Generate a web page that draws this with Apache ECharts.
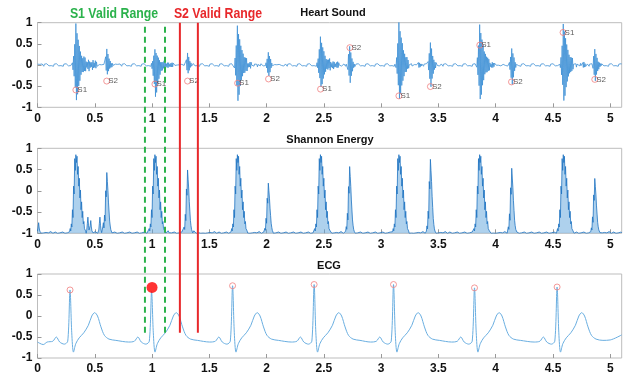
<!DOCTYPE html>
<html>
<head>
<meta charset="utf-8">
<script src="https://cdn.jsdelivr.net/npm/echarts@6/dist/echarts.min.js"></script>
<style>
html,body{margin:0;padding:0;background:#fff}
#main{width:624px;height:379px}
</style>
</head>
<body>
<div id="main"></div>
<script>
// sample step of the rebuilt signals (s) and x range
const DT = 0.005
const X_MAX = 5.1

// heart sound: S1 / S2 events (time, positive peak, negative peak)
const S1_TIME = [0.335, 1.025, 1.747, 2.471, 3.155, 3.861, 4.588]
const S1_POS = [0.95, 0.38, 0.95, 0.68, 0.98, 0.97, 0.95]
const S1_NEG = [-0.85, -0.78, -0.85, -0.55, -0.78, -0.83, -0.83]
const S1_TAIL = [0.12, 0.05, 0.06, 0.08, 0.05, 0.05, 0.06]
const S2_TIME = [0.604, 1.31, 2.017, 2.727, 3.43, 4.138, 4.865]
const S2_POS = [0.35, 0.3, 0.28, 0.45, 0.52, 0.37, 0.36]
const S2_NEG = [-0.2, -0.22, -0.25, -0.45, -0.5, -0.45, -0.35]

// burst shapes (one value per sample)
const S1_SHAPE = [0.05,-0.1,0.2,-0.3,0.5,-0.6,1.0,-1.0,0.8,-0.85,0.65,-0.6,0.5,-0.45,0.35,-0.3,0.25,-0.2,0.15,-0.15,0.12,-0.1,0.08,-0.08]
const S1_PEAK_IDX = 6
const TAIL_SHAPE = [0.4,-0.5,0.8,-0.6,1.0,-0.9,0.5,-0.4,0.3,-0.6,0.9,-1.0,0.6,-0.4,0.3,-0.2,0.5,-0.7,0.8,-0.5,0.3,-0.3,0.6,-0.8,0.7,-0.5,0.3,-0.2]
const S2_SHAPE = [0.1,-0.2,0.5,-0.6,1.0,-1.0,0.7,-0.6,0.4,-0.35,0.2,-0.2,0.1,-0.1,0.05]
const S2_PEAK_IDX = 4
const HS_NOISE = [0.02,-0.01,0.03,-0.02,0.015,-0.025,0.01,-0.015,0.025,-0.02,0.005,-0.03,0.02,-0.01,0.015,-0.02,0.03]

// S1/S2 markers on the heart sound plot
const S1_MARK = [[0.335,-0.59],[1.025,-0.45],[1.747,-0.43],[2.471,-0.57],[3.155,-0.73],[3.861,0.47],[4.588,0.77]]
const S2_MARK = [[0.604,-0.38],[1.31,-0.38],[2.017,-0.33],[2.727,0.41],[3.43,-0.51],[4.138,-0.4],[4.865,-0.34]]

// shannon energy peaks
const SE_S1_PEAK = [0.85, 0.85, 0.85, 0.85, 0.85, 0.85, 0.85]
const SE_S2_PEAK = [0.43, 0.49, 0.18, 0.57, 0.74, 0.53, 0.29]
const SE_S1_SHAPE = [0.02,0.06,0.03,0.12,0.08,0.3,0.2,0.6,0.5,0.95,0.8,1.0,0.9,0.98,0.75,0.85,0.6,0.7,0.45,0.55,0.3,0.4,0.2,0.28,0.12,0.15,0.06,0.08,0.03]
const SE_S1_IDX = 11
const SE_S2_SHAPE = [0.03,0.1,0.06,0.3,0.2,0.7,0.6,1.0,0.85,0.7,0.5,0.35,0.2,0.12,0.06,0.03]
const SE_S2_IDX = 7
const SE_MINOR = [[0.01,0.25],[0.44,0.38],[0.465,0.3],[0.545,0.38],[0.575,0.25],[1.08,0.1],[1.14,0.06],[1.37,0.1],[2.52,0.18],[3.2,0.1],[3.93,0.12],[4.63,0.55],[4.66,0.2],[4.9,0.08]]
const SE_BUMP = [0.2,0.6,1.0,0.5,0.2]
const SE_NOISE = [0.01,0.0,0.02,0.005,0.0,0.03,0.01,0.0,0.015,0.0,0.04,0.01,0.0]

// ECG
const R_TIME = [0.284, 0.996, 1.703, 2.415, 3.108, 3.815, 4.536]
const R_PEAK = [0.62, 0.58, 0.72, 0.75, 0.75, 0.67, 0.69]
const ECG_BEAT = [[-0.2,-0.62],[-0.15,-0.6],[-0.12,-0.5],[-0.09,-0.62],[-0.05,-0.67],[-0.02,-0.6],[0,null],[0.015,-0.4],[0.03,-0.86],[0.05,-0.66],[0.08,-0.52],[0.12,-0.4],[0.16,-0.22],[0.19,0.0],[0.215,0.08],[0.24,0.0],[0.27,-0.26],[0.3,-0.46],[0.34,-0.55],[0.4,-0.58]]
const ECG_LEAD = [[0,-0.62],[0.05,-0.68]]
const ECG_END = [[5.0,-0.57],[5.1,-0.45]]
const R_MARK = [[0.284,0.62],[1.703,0.72],[2.415,0.75],[3.108,0.75],[3.815,0.67],[4.536,0.69]]
const R_SELECTED = [[1.0,0.68]]

// valid ranges
const S1_RANGE = [0.938, 1.113]
const S2_RANGE = [1.243, 1.40]

const n = Math.round(X_MAX / DT) + 1

function place(arr, t, shape, peakIdx, fn) {
  let i0 = Math.round(t / DT) - peakIdx
  shape.forEach((s, k) => {
    let i = i0 + k
    if (i >= 0 && i < arr.length) fn(i, s)
  })
}

// heart sound
let hs = []
for (let i = 0; i < n; i++) hs.push(HS_NOISE[i % HS_NOISE.length])
S1_TIME.forEach((t, j) => {
  place(hs, t, S1_SHAPE, S1_PEAK_IDX, (i, s) => { hs[i] += s > 0 ? s * S1_POS[j] : s * Math.abs(S1_NEG[j]) })
  place(hs, t + 0.06, TAIL_SHAPE, 0, (i, s) => { hs[i] += s * S1_TAIL[j] })
})
S2_TIME.forEach((t, j) => {
  place(hs, t, S2_SHAPE, S2_PEAK_IDX, (i, s) => { hs[i] += s > 0 ? s * S2_POS[j] : s * Math.abs(S2_NEG[j]) })
})
const hsData = hs.map((v, i) => [i * DT, v])

// shannon energy
let se = []
for (let i = 0; i < n; i++) se.push(-1 + SE_NOISE[i % SE_NOISE.length])
S1_TIME.forEach((t, j) => {
  place(se, t, SE_S1_SHAPE, SE_S1_IDX, (i, s) => { se[i] = Math.max(se[i], -1 + s * (SE_S1_PEAK[j] + 1)) })
})
S2_TIME.forEach((t, j) => {
  place(se, t, SE_S2_SHAPE, SE_S2_IDX, (i, s) => { se[i] = Math.max(se[i], -1 + s * (SE_S2_PEAK[j] + 1)) })
})
SE_MINOR.forEach(m => {
  place(se, m[0], SE_BUMP, 2, (i, s) => { se[i] = Math.max(se[i], -1 + s * m[1]) })
})
const seData = se.map((v, i) => [i * DT, v])

// ecg
let ecgData = ECG_LEAD.slice()
R_TIME.forEach((r, j) => {
  ECG_BEAT.forEach(p => ecgData.push([r + p[0], p[1] === null ? R_PEAK[j] : p[1]]))
})
ecgData = ecgData.concat(ECG_END)

const FONT = 'Liberation Sans'
const GRIDS = [
  { left: 37.5, right: 2.3, top: 22.7, height: 84.6 },
  { left: 37.5, right: 2.3, top: 148.3, height: 85 },
  { left: 37.5, right: 2.3, top: 274, height: 84 },
  { left: 37.5, right: 2.3, top: 22.7, height: 310 }
]

function xAxis(idx) {
  return {
    type: 'value', gridIndex: idx, min: 0, max: X_MAX, interval: 0.5,
    show: idx < 3,
    axisLine: { show: false, onZero: false },
    splitLine: { show: false },
    axisTick: { inside: true, length: 4, lineStyle: { color: '#999' } },
    axisLabel: {
      fontFamily: FONT, fontWeight: 'bold', fontSize: 12, color: '#111', margin: 5,
      showMaxLabel: false,
      formatter: v => (Math.abs(v * 2 - Math.round(v * 2)) < 1e-6 ? String(v) : '')
    }
  }
}
function yAxis(idx) {
  if (idx === 3) return { type: 'value', gridIndex: 3, min: 0, max: 1, show: false }
  return {
    type: 'value', gridIndex: idx, min: -1, max: 1, interval: 0.5,
    axisLine: { show: false, onZero: false },
    splitLine: { show: false },
    axisTick: { inside: true, length: 4, lineStyle: { color: '#999' } },
    axisLabel: { fontFamily: FONT, fontWeight: 'bold', fontSize: 12, color: '#111', margin: 5 }
  }
}

const markLabel = txt => ({
  show: true, formatter: txt, position: 'right', distance: -2,
  fontSize: 8, color: '#333', fontFamily: FONT
})

function rangeLine(x, color, dashed) {
  return {
    type: 'line', xAxisIndex: 3, yAxisIndex: 3, data: [[x, 0], [x, 1]],
    symbol: 'none', silent: true, z: 10,
    lineStyle: { color: color, width: 2, type: dashed ? [6, 4] : 'solid' }
  }
}

function label(x, y, text, color, size, sx) {
  return {
    type: 'text', x: x, y: y, scaleX: sx || 1,
    style: { text: text, fill: color, font: 'bold ' + size + 'px ' + FONT, textAlign: 'center', textVerticalAlign: 'middle' }
  }
}

const chart = echarts.init(document.getElementById('main'))
chart.setOption({
  animation: false,
  grid: GRIDS.map((g, i) => Object.assign({ show: i < 3, borderColor: '#bdbdbd', borderWidth: 1 }, g)),
  xAxis: [0, 1, 2, 3].map(xAxis),
  yAxis: [0, 1, 2, 3].map(yAxis),
  graphic: [
    label(114, 14, 'S1 Valid Range', '#2bb24c', 15, 0.82),
    label(218, 14, 'S2 Valid Range', '#e8282b', 15, 0.82),
    label(333, 13, 'Heart Sound', '#111', 11),
    label(330, 140, 'Shannon Energy', '#111', 11),
    label(329, 266, 'ECG', '#111', 11)
  ],
  series: [
    {
      type: 'line', xAxisIndex: 0, yAxisIndex: 0, data: hsData, symbol: 'none',
      lineStyle: { color: '#3f90d6', width: 0.8 }
    },
    {
      type: 'scatter', xAxisIndex: 0, yAxisIndex: 0, data: S1_MARK, symbol: 'circle', symbolSize: 6,
      itemStyle: { color: 'rgba(0,0,0,0)', borderColor: '#f08080', borderWidth: 1 }, label: markLabel('S1'), z: 5
    },
    {
      type: 'scatter', xAxisIndex: 0, yAxisIndex: 0, data: S2_MARK, symbol: 'circle', symbolSize: 6,
      itemStyle: { color: 'rgba(0,0,0,0)', borderColor: '#f08080', borderWidth: 1 }, label: markLabel('S2'), z: 5
    },
    {
      type: 'line', xAxisIndex: 1, yAxisIndex: 1, data: seData, symbol: 'none',
      lineStyle: { color: '#1f74c2', width: 0.8 },
      areaStyle: { color: '#5ea3dc', opacity: 0.5, origin: 'start' }
    },
    {
      type: 'line', xAxisIndex: 2, yAxisIndex: 2, data: ecgData, symbol: 'none', smooth: 0.3,
      lineStyle: { color: '#6aaee0', width: 1 }
    },
    {
      type: 'scatter', xAxisIndex: 2, yAxisIndex: 2, data: R_MARK, symbol: 'circle', symbolSize: 6,
      itemStyle: { color: 'rgba(0,0,0,0)', borderColor: '#f08080', borderWidth: 1 }, z: 5
    },
    {
      type: 'scatter', xAxisIndex: 2, yAxisIndex: 2, data: R_SELECTED, symbol: 'circle', symbolSize: 11,
      itemStyle: { color: '#ff0000' }, z: 6
    },
    rangeLine(S1_RANGE[0], '#2bb24c', true),
    rangeLine(S1_RANGE[1], '#2bb24c', true),
    rangeLine(S2_RANGE[0], '#e8282b', false),
    rangeLine(S2_RANGE[1], '#e8282b', false)
  ]
})
</script>
</body>
</html>
